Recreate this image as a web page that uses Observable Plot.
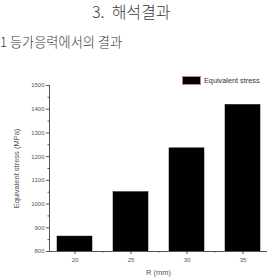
<!DOCTYPE html>
<html><head><meta charset="utf-8">
<script src="https://cdn.jsdelivr.net/npm/d3@7"></script>
<script src="https://cdn.jsdelivr.net/npm/@observablehq/plot@0.6"></script>
<style>
html,body{margin:0;padding:0;background:#fff}
body{width:267px;height:279px;overflow:hidden;position:relative;font-family:"Noto Sans CJK KR",sans-serif}
#t1{position:absolute;left:92px;top:0px;font-size:16px;line-height:22px;color:#3a3a3a;white-space:pre;font-weight:300}
#t2{position:absolute;left:0;top:32px;font-size:13.2px;line-height:20px;color:#3a3a3a;white-space:pre;font-weight:300}
#chart{position:absolute;left:0;top:60px}
#legend{position:absolute;left:182px;top:76px;display:flex;align-items:center;font-family:"Liberation Sans",Arial,sans-serif;font-size:7.3px;color:#333}
#legend .sw{width:17px;height:7px;background:#000;border:1px solid #b88;margin-right:3px}
</style></head>
<body>
<div id="t1"></div>
<div id="t2"></div>
<div id="chart"></div>
<div id="legend"><div class="sw"></div><span id="lgtext"></span></div>
<script>
const titleText = "3.  해석결과";
const subtitleText = "1 등가응력에서의 결과";
const radii = ["20", "25", "30", "35"];
const stress = [863, 1050, 1235, 1418];
const yTicks = [800, 900, 1000, 1100, 1200, 1300, 1400, 1500];
const yMinorTicks = [850, 950, 1050, 1150, 1250, 1350, 1450];
const seriesName = "Equivalent stress";
const yLabel = "Equivalent stress (MPa)";
const xLabel = "R (mm)";

document.getElementById("t1").textContent = titleText;
document.getElementById("t2").textContent = subtitleText;
document.getElementById("lgtext").textContent = seriesName;

const data = radii.map((r, i) => ({r, v: stress[i]}));
const W = 267, H = 219, ML = 49, MR = 0, MT = 25, MB = 28;
const pIn = 0.375, pOut = 0.13;
const band = d3.scaleBand(radii, [ML, W - MR]).paddingInner(pIn).paddingOuter(pOut);
const half = band.step() / 2;
const yBase = yTicks[0];

const chart = Plot.plot({
  width: W, height: H,
  marginLeft: ML, marginRight: MR, marginTop: MT, marginBottom: MB,
  style: {fontFamily: "'Liberation Sans', Arial, sans-serif", background: "transparent"},
  x: {type: "band", domain: radii, paddingInner: pIn, paddingOuter: pOut},
  y: {domain: [yTicks[0], yTicks[yTicks.length - 1]]},
  marks: [
    Plot.barY(data, {x: "r", y1: () => yBase, y2: "v", fill: "#000", stroke: "#000", strokeWidth: 0.5}),
    Plot.frame({anchor: "left", stroke: "#555"}),
    Plot.frame({anchor: "bottom", stroke: "#555"}),
    Plot.axisY(yTicks, {tickSize: 3, tickPadding: 2, fontSize: 6, fill: "#555", stroke: "#555",
      tickFormat: d3.format("d"), label: null}),
    Plot.axisY(yMinorTicks, {tickSize: 1.5, text: null, label: null, stroke: "#555"}),
    Plot.axisY([], {text: null, tickSize: 0, label: yLabel, labelAnchor: "center", labelArrow: "none",
      labelOffset: 36, fontSize: 7.5, fill: "#555"}),
    Plot.axisX(radii, {tickSize: 3, tickPadding: 3, fontSize: 6, fill: "#555", stroke: "#555",
      label: null}),
    Plot.axisX(radii, {tickSize: 1.5, text: null, label: null, dx: half, stroke: "#555"}),
    Plot.axisX([], {text: null, tickSize: 0, label: xLabel, labelAnchor: "center", labelArrow: "none",
      labelOffset: 23, fontSize: 7.5, fill: "#555"})
  ]
});
document.getElementById("chart").appendChild(chart);
</script>
</body></html>
